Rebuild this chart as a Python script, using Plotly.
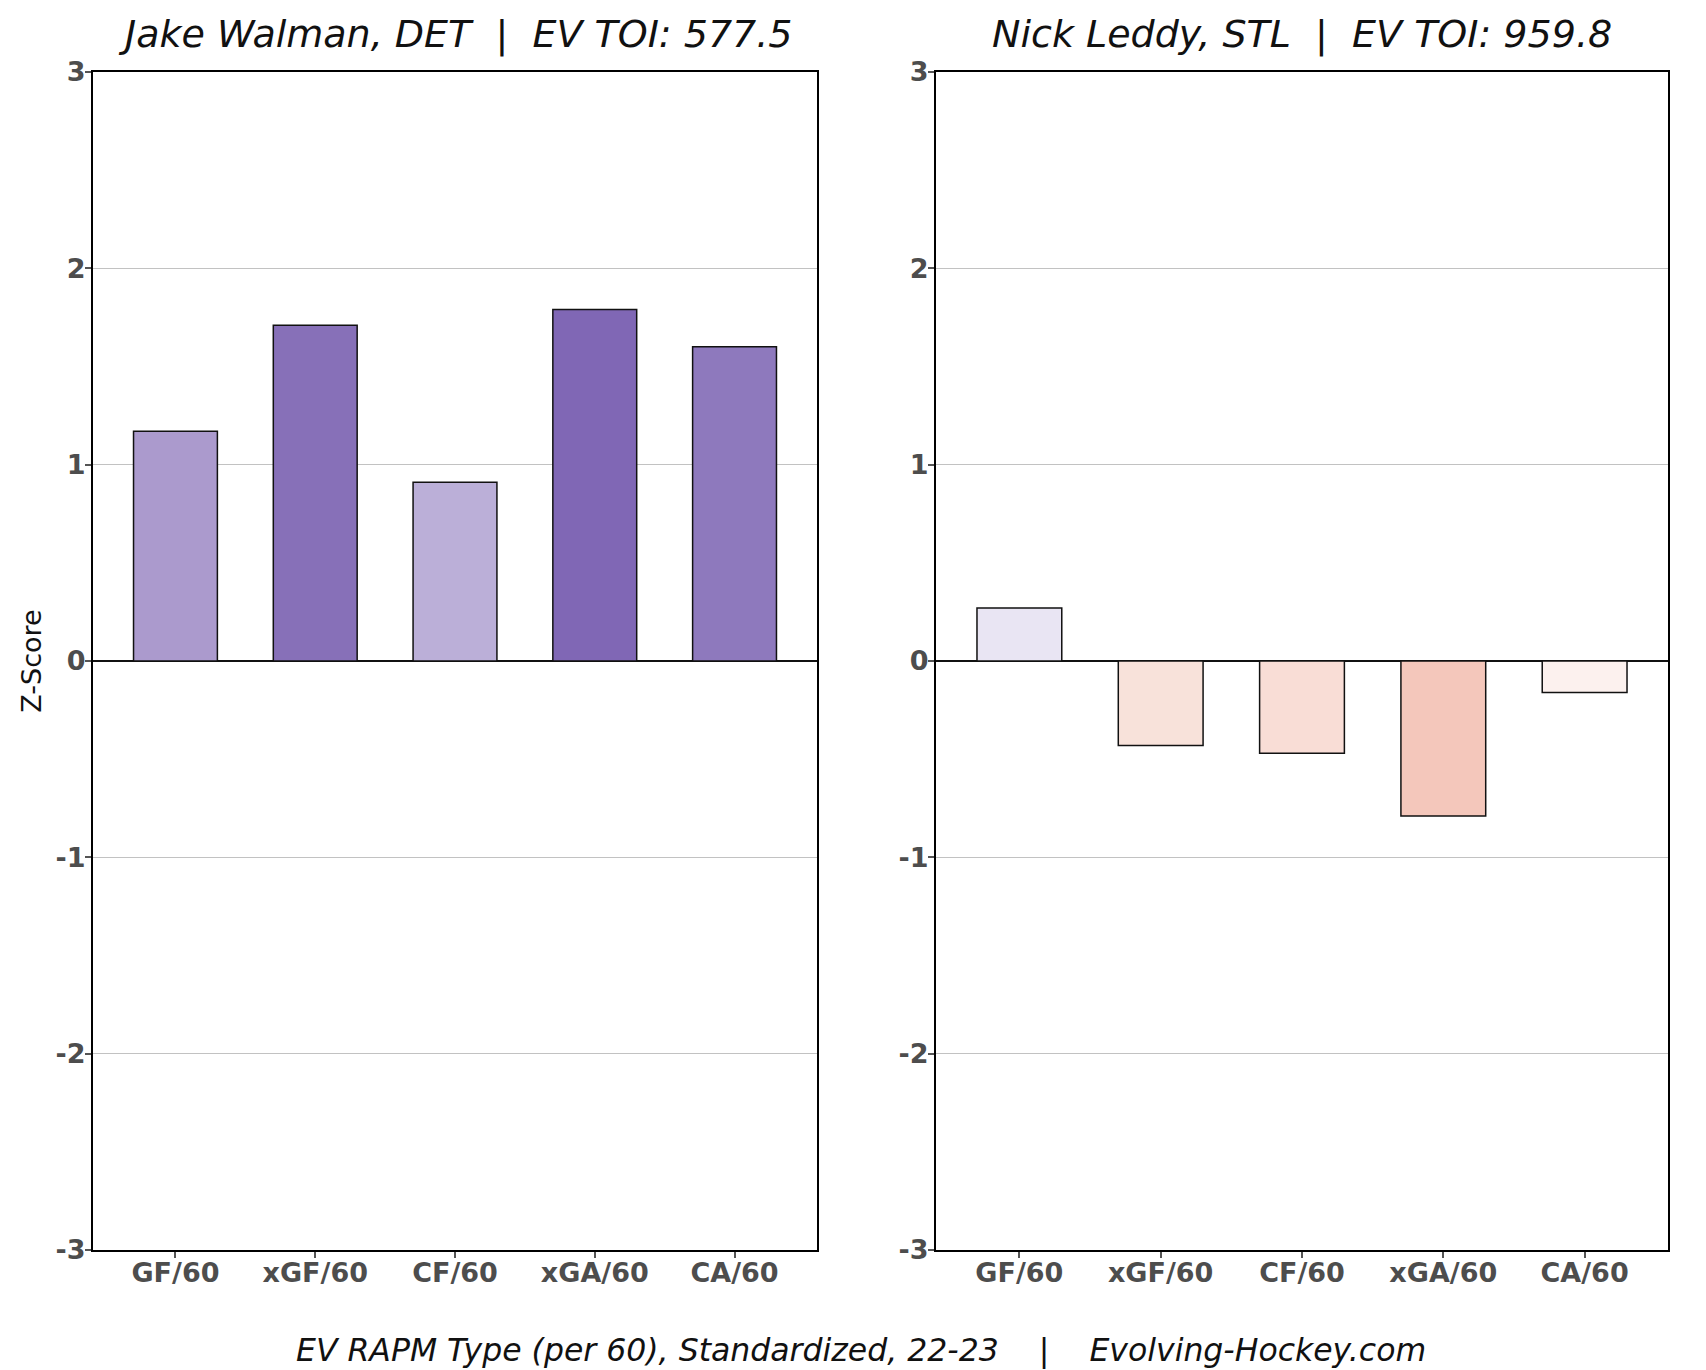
import plotly.graph_objects as go

W, H = 1706, 1370

categories = ["GF/60", "xGF/60", "CF/60", "xGA/60", "CA/60"]

walman_title = "Jake Walman, DET\u00a0\u00a0|\u00a0\u00a0EV TOI: 577.5"
walman_values = [1.17, 1.71, 0.91, 1.79, 1.60]
walman_colors = ["#ab9acd", "#8770b8", "#bbafd8", "#8067b5", "#8e79bd"]

leddy_title = "Nick Leddy, STL\u00a0\u00a0|\u00a0\u00a0EV TOI: 959.8"
leddy_values = [0.27, -0.43, -0.47, -0.79, -0.16]
leddy_colors = ["#e9e5f3", "#f8e2da", "#f9ddd6", "#f4c7bb", "#fcf1ee"]

y_ticks = [-3, -2, -1, 0, 1, 2, 3]
y_ticktext = ["-3", "-2", "-1", "0", "1", "2", "3"]
caption = "EV RAPM Type (per 60), Standardized, 22-23\u00a0\u00a0\u00a0\u00a0|\u00a0\u00a0\u00a0\u00a0Evolving-Hockey.com"

FONT = "DejaVu Sans"

def px_x(p):
    return p / W

def px_y(p):
    return 1 - p / H

top, bottom = 64, 1242
left_dom = [px_x(85), px_x(809)]
right_dom = [px_x(928), px_x(1660)]
y_dom = [px_y(bottom), px_y(top)]

fig = go.Figure()
fig.add_trace(go.Bar(x=categories, y=walman_values, width=0.6,
                     marker=dict(color=walman_colors, line=dict(color="#111111", width=1.5)),
                     xaxis="x", yaxis="y", showlegend=False))
fig.add_trace(go.Bar(x=categories, y=leddy_values, width=0.6,
                     marker=dict(color=leddy_colors, line=dict(color="#111111", width=1.5)),
                     xaxis="x2", yaxis="y2", showlegend=False))

xcommon = dict(type="category", range=[-0.59, 4.59], showline=True, linecolor="#000000",
               linewidth=2, mirror=True, ticks="outside", ticklen=6, tickcolor="#555555",
               tickwidth=1.5, showgrid=False, zeroline=False, automargin=False,
               ticklabelstandoff=-8,
               tickfont=dict(family=FONT, size=27, color="#4d4d4d", weight="bold"))
ycommon = dict(range=[-3, 3], tickvals=y_ticks, ticktext=y_ticktext, showline=True,
               linecolor="#000000", automargin=False, ticklabelstandoff=-6,
               linewidth=2, mirror=True, ticks="outside", ticklen=6, tickcolor="#555555",
               tickwidth=1.5, showgrid=True, gridcolor="#c2c2c2", gridwidth=1.2,
               zeroline=True, zerolinecolor="#111111", zerolinewidth=2,
               tickfont=dict(family=FONT, size=27, color="#4d4d4d", weight="bold"))

fig.update_layout(
    width=W, height=H,
    margin=dict(l=0, r=0, t=0, b=0),
    paper_bgcolor="white", plot_bgcolor="white",
    xaxis=dict(domain=left_dom, anchor="y", **xcommon),
    yaxis=dict(domain=y_dom, anchor="x",
               title=dict(text="Z-Score", font=dict(family=FONT, size=27, color="#111111"), standoff=6),
               **ycommon),
    xaxis2=dict(domain=right_dom, anchor="y2", **xcommon),
    yaxis2=dict(domain=y_dom, anchor="x2", **ycommon),
    annotations=[
        dict(text=walman_title, x=(left_dom[0] + left_dom[1]) / 2, y=px_y(27),
             xref="paper", yref="paper", showarrow=False, xanchor="center", yanchor="middle",
             font=dict(family=FONT, size=38, color="#111111", style="italic")),
        dict(text=leddy_title, x=(right_dom[0] + right_dom[1]) / 2, y=px_y(27),
             xref="paper", yref="paper", showarrow=False, xanchor="center", yanchor="middle",
             font=dict(family=FONT, size=38, color="#111111", style="italic")),
        dict(text=caption, x=0.5, y=px_y(1342),
             xref="paper", yref="paper", showarrow=False, xanchor="center", yanchor="middle",
             font=dict(family=FONT, size=31.5, color="#111111", style="italic")),
    ],
)

fig.write_html("out.html")
